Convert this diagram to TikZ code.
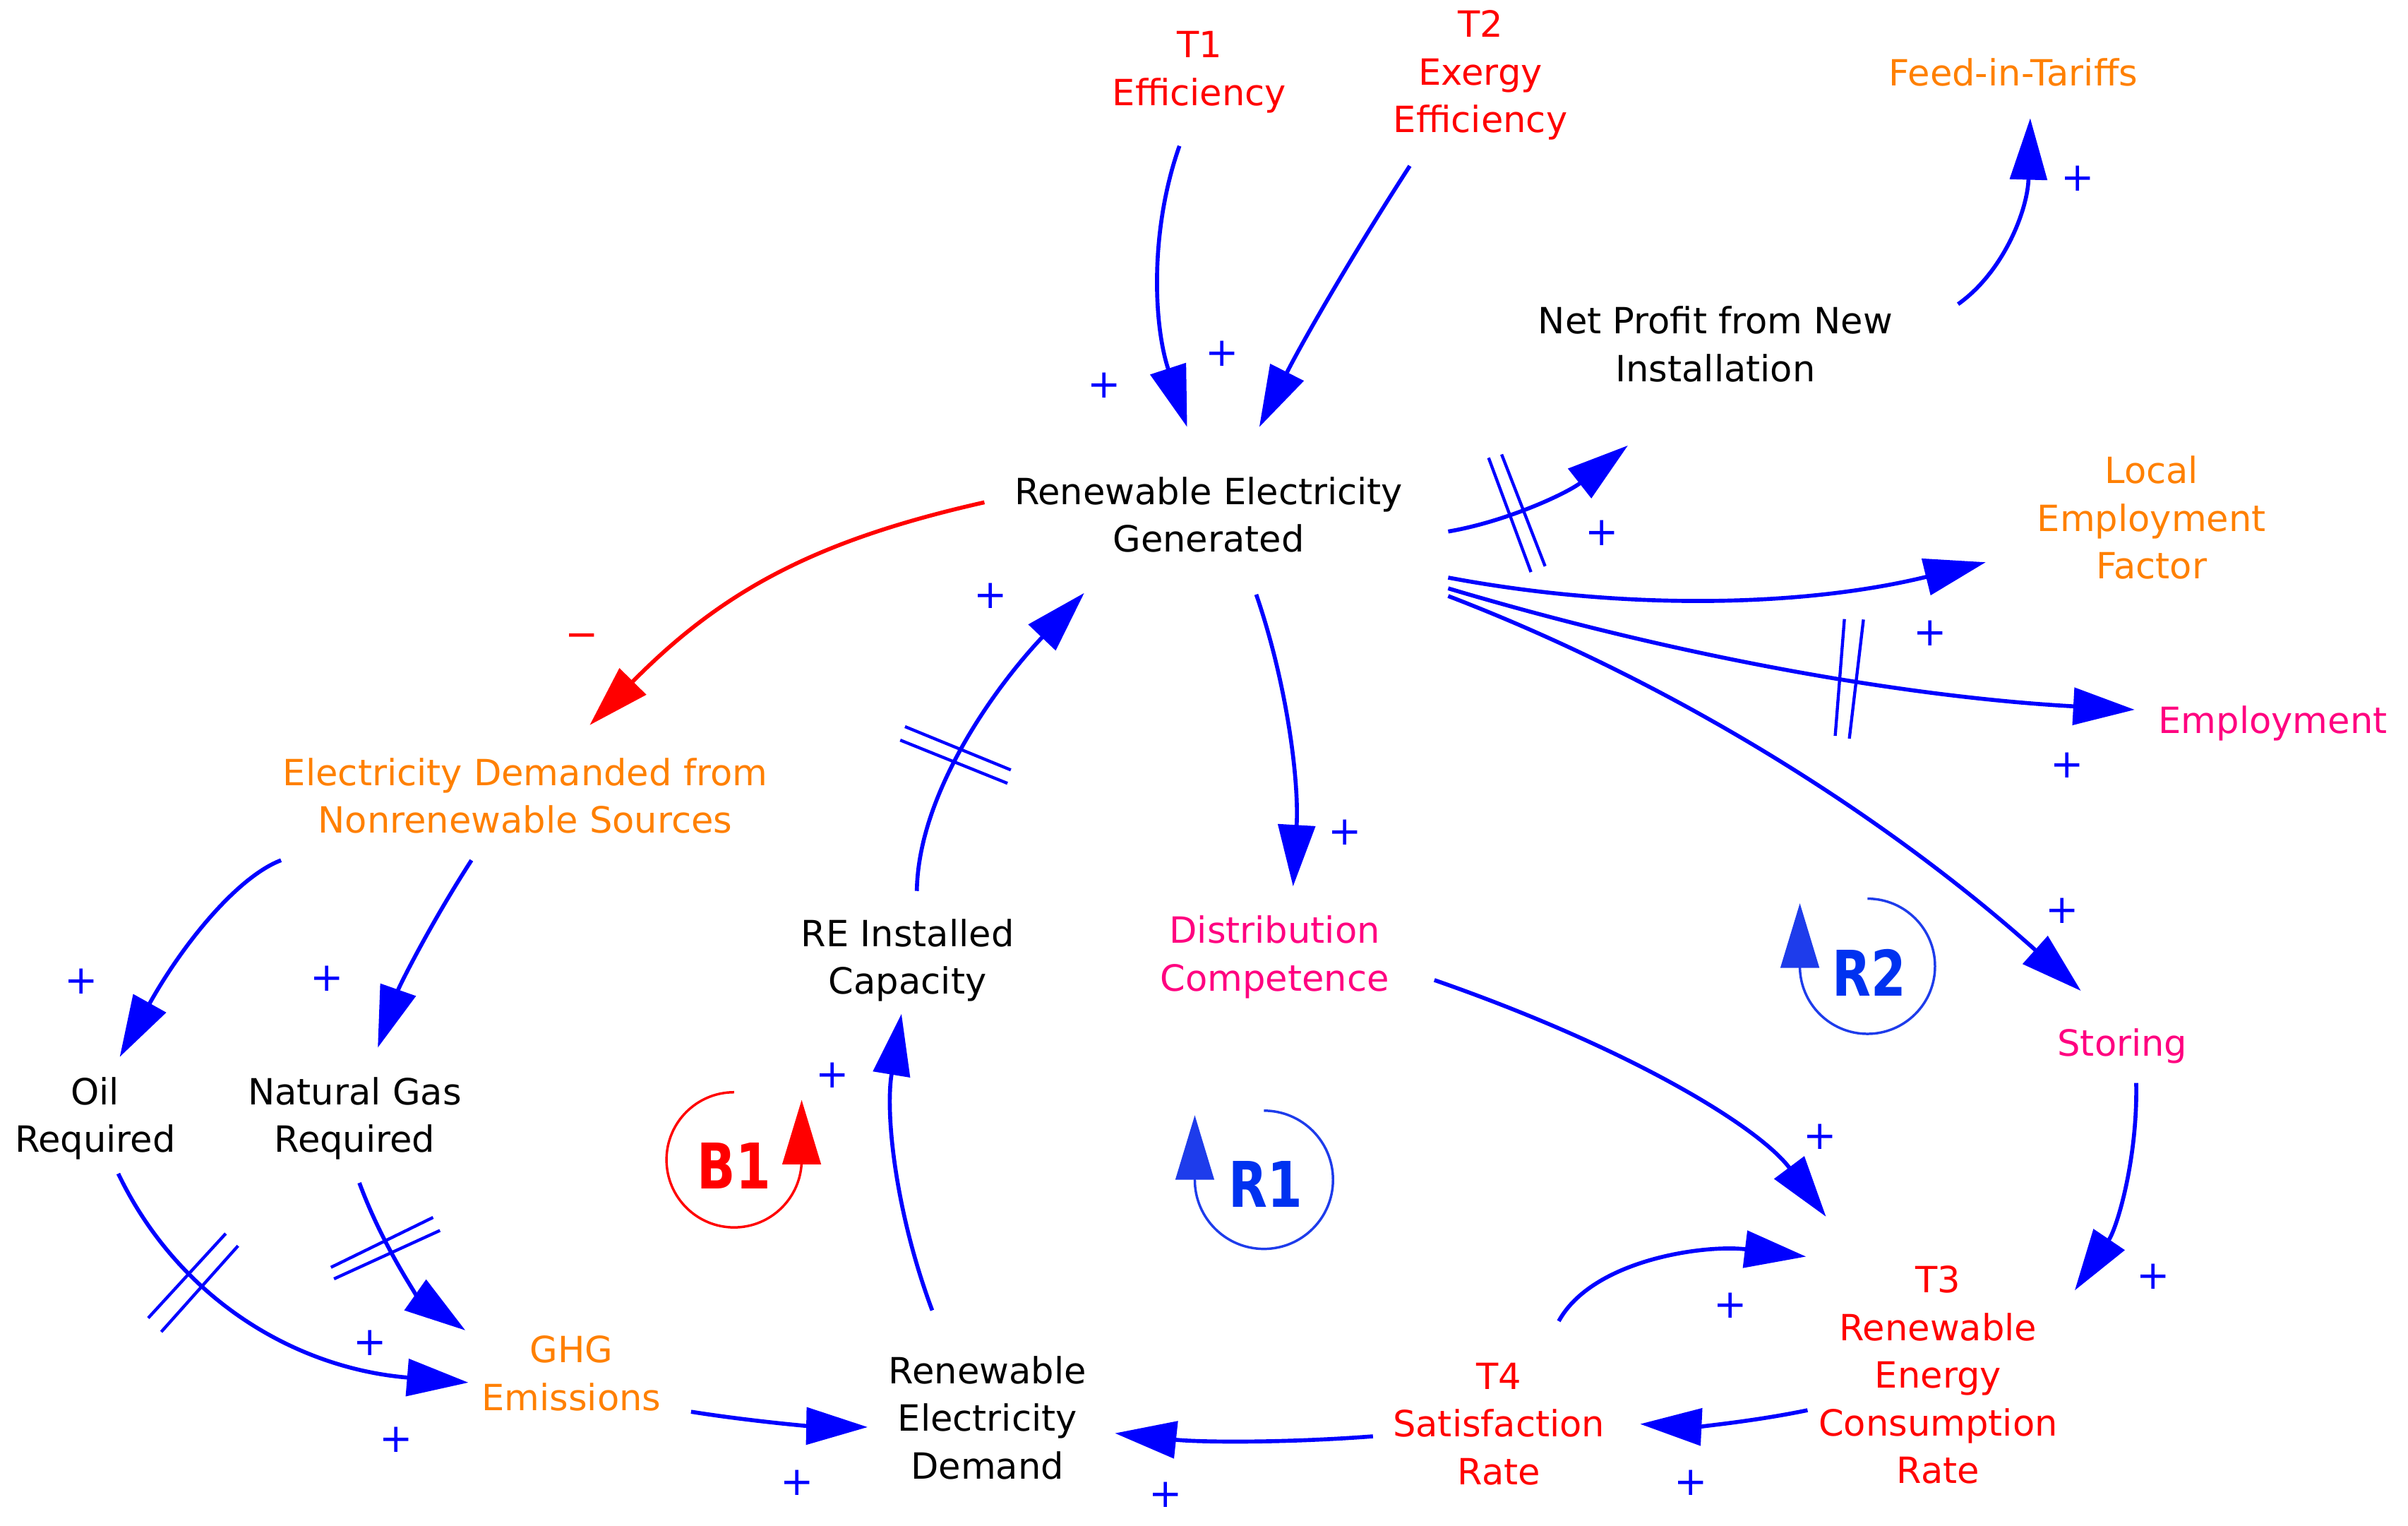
\documentclass[tikz,border=0pt]{standalone}
\usepackage{fontspec}
\setmainfont{DejaVu Sans}
\usetikzlibrary{arrows.meta,calc}
\definecolor{vblue}{RGB}{0,0,255}
\definecolor{vred}{RGB}{255,0,0}
\definecolor{vorange}{RGB}{255,128,0}
\definecolor{vpink}{RGB}{255,0,128}
\definecolor{loopblue}{RGB}{30,60,235}
\definecolor{looptext}{RGB}{0,50,240}
\begin{document}
\begin{tikzpicture}[x=1pt,y=-1pt,
  var/.style={inner sep=0pt, align=center, font=\fontsize{23.5}{31}\selectfont},
  link/.style={draw=vblue, line width=2.6pt, -{Triangle[length=40pt,width=24pt]}},
  neglink/.style={draw=vred, line width=2.6pt, -{Triangle[length=40pt,width=24pt]}},
  hash/.style={draw=vblue, line width=2pt},
  pol/.style={inner sep=0pt, text=vblue, font=\fontsize{26}{26}\selectfont},
  loopsym/.style={line width=1.6pt},
  looptip/.style={line width=1.6pt, -{Triangle[length=42pt,width=25pt]}},
  looplabel/.style={inner sep=0pt, font=\fontsize{41}{41}\selectfont\bfseries}]
\fill[white] (0,0) rectangle (1568,993);
\useasboundingbox (0,0) rectangle (1568,993);

% variables
\node[var,text=vred] (t1) at (781,47) {T1\\Efficiency};
\node[var,text=vred] (t2) at (964,49) {T2\\Exergy\\Efficiency};
\node[var,text=vorange] (fit) at (1311,47) {Feed-in-Tariffs};
\node[var] (npi) at (1117,224) {Net Profit from New\\Installation};
\node[var] (reg) at (787,335) {Renewable Electricity\\Generated};
\node[var,text=vorange] (lef) at (1401,337) {Local\\Employment\\Factor};
\node[var,text=vpink] (emp) at (1480,471) {Employment};
\node[var,text=vorange] (edn) at (342,518) {Electricity Demanded from\\Nonrenewable Sources};
\node[var] (rec) at (591,625) {RE Installed\\Capacity};
\node[var,text=vpink] (dc) at (830,623) {Distribution\\Competence};
\node[var,text=vpink] (sto) at (1382,681) {Storing};
\node[var] (oil) at (62,728) {Oil\\Required};
\node[var] (ngr) at (231,728) {Natural Gas\\Required};
\node[var,text=vorange] (ghg) at (372,894) {GHG\\Emissions};
\node[var] (red) at (643,923) {Renewable\\Electricity\\Demand};
\node[var,text=vred] (t4) at (976,927) {T4\\Satisfaction\\Rate};
\node[var,text=vred] (t3) at (1262,895) {T3\\Renewable\\Energy\\Consumption\\Rate};

% links
\draw[link] ($(t1)+(-13,48)$) .. controls (749,148.7) and (750.7,209.7) .. ($(reg)+(-14,-57)$);
\draw[link] ($(t2)+(-46,59)$) .. controls (881.3,164.7) and (848.7,221.3) .. ($(reg)+(33,-57)$);
\draw[link] ($(reg)+(156,11)$) .. controls (982,339.3) and (1021,320.7) .. ($(npi)+(-57,66)$);
\draw[link] ($(npi)+(158,-26)$) .. controls (1304.7,177) and (1320.3,136.7) .. ($(fit)+(11,30)$);
\draw[link] ($(reg)+(156,41)$) .. controls (1059.7,398) and (1176.3,394.7) .. ($(lef)+(-108,29)$);
\draw[link] ($(reg)+(156,48)$) .. controls (1091.3,427.3) and (1240.3,453.7) .. ($(emp)+(-90,-9)$);
\draw[link] ($(reg)+(156,53)$) .. controls (1088.3,443.7) and (1225.7,529.3) .. ($(sto)+(-27,-36)$);
\draw[link] ($(reg)+(31,52)$) .. controls (838,445) and (846,508.3) .. ($(dc)+(12,-46)$);
\draw[neglink] ($(reg)+(-146,-8)$) .. controls (530,352) and (470,385) .. ($(edn)+(42,-46)$);
\draw[link] ($(rec)+(6,-45)$) .. controls (598,515) and (650,445) .. ($(reg)+(-81,51)$);
\draw[link] ($(edn)+(-159,42)$) .. controls (155,570.7) and (119.7,613.3) .. ($(oil)+(16,-40)$);
\draw[link] ($(edn)+(-35,42)$) .. controls (280.7,600.7) and (260.3,641.3) .. ($(ngr)+(15,-46)$);
\draw[link] ($(oil)+(15,36)$) .. controls (116,845.3) and (192,890.7) .. ($(ghg)+(-67,6)$);
\draw[link] ($(ngr)+(3,42)$) .. controls (249.6,812.2) and (272.6,844.5) .. ($(ghg)+(-69,-28)$);
\draw[link] ($(ghg)+(78,25)$) .. controls (487.7,925) and (526,928.3) .. ($(red)+(-78,6)$);
\draw[link] ($(red)+(-36,-70)$) .. controls (583,788.7) and (576.3,725) .. ($(rec)+(-4,35)$);
\draw[link] ($(dc)+(104,15)$) .. controls (1059.8,681.7) and (1144.8,733) .. ($(t3)+(-73,-103)$);
\draw[link] ($(sto)+(9,24)$) .. controls (1392,754) and (1378.7,799) .. ($(t3)+(89,-55)$);
\draw[link] ($(t4)+(39,-67)$) .. controls (1037,820) and (1110,810) .. ($(t3)+(-86,-77)$);
\draw[link] ($(t3)+(-85,23)$) .. controls (1140,925.7) and (1103.7,928.7) .. ($(t4)+(92,0)$);
\draw[link] ($(t4)+(-82,8)$) .. controls (838,939.3) and (782,939) .. ($(red)+(83,10)$);

% delay marks
\draw[hash] (969.3,298) -- (996.9,372.4);
\draw[hash] (977.8,295.8) -- (1006.1,368.6);
\draw[hash] (1201,403) -- (1195,479);
\draw[hash] (1213.4,403.3) -- (1204.2,480.8);
\draw[hash] (589.3,473) -- (658.2,501.2);
\draw[hash] (586.2,481.8) -- (656,509.9);
\draw[hash] (96.5,858) -- (147,803);
\draw[hash] (105,867) -- (155,811);
\draw[hash] (215.5,825) -- (282,792.5);
\draw[hash] (217.5,832.5) -- (286.5,801);

% polarities
\node[pol] (p1) at (719,251) {+};
\node[pol] (p2) at (796,230) {+};
\node[pol] (p3) at (1043,347) {+};
\node[pol] (p4) at (1353,116) {+};
\node[pol] (p5) at (1257,412) {+};
\node[pol] (p6) at (1346,498) {+};
\node[pol] (p7) at (1343,593) {+};
\node[pol] (p8) at (876,542) {+};
\node[pol] (p9) at (645,388) {+};
\node[pol] (p10) at (53,639) {+};
\node[pol] (p11) at (213,637) {+};
\node[pol] (p12) at (241,874) {+};
\node[pol] (p13) at (258,937) {+};
\node[pol] (p14) at (519,965) {+};
\node[pol] (p15) at (542,700) {+};
\node[pol] (p16) at (1185,740) {+};
\node[pol] (p17) at (1402,831) {+};
\node[pol] (p18) at (1127,850) {+};
\node[pol] (p19) at (1101,965) {+};
\node[pol] (p20) at (759,973) {+};
\node[pol,text=vred] (m1) at (379,417) {−};

% loop symbols
\draw[loopsym,vred] (478,711) arc[start angle=270, end angle=0, radius=44];
\draw[looptip,vred] (522,759) -- (522,716);
\node[looplabel,text=vred] (b1) at (478,759) {\scalebox{0.8}[1]{B1}};

\draw[loopsym,loopblue] (823,723) arc[start angle=-90, end angle=180, radius=45];
\draw[looptip,loopblue] (778,768) -- (778,726);
\node[looplabel,text=looptext] (r1) at (824,771) {\scalebox{0.8}[1]{R1}};

\draw[loopsym,loopblue] (1216,585) arc[start angle=-90, end angle=180, radius=44];
\draw[looptip,loopblue] (1172,629) -- (1172,588);
\node[looplabel,text=looptext] (r2) at (1217,633) {\scalebox{0.8}[1]{R2}};
\end{tikzpicture}
\end{document}
